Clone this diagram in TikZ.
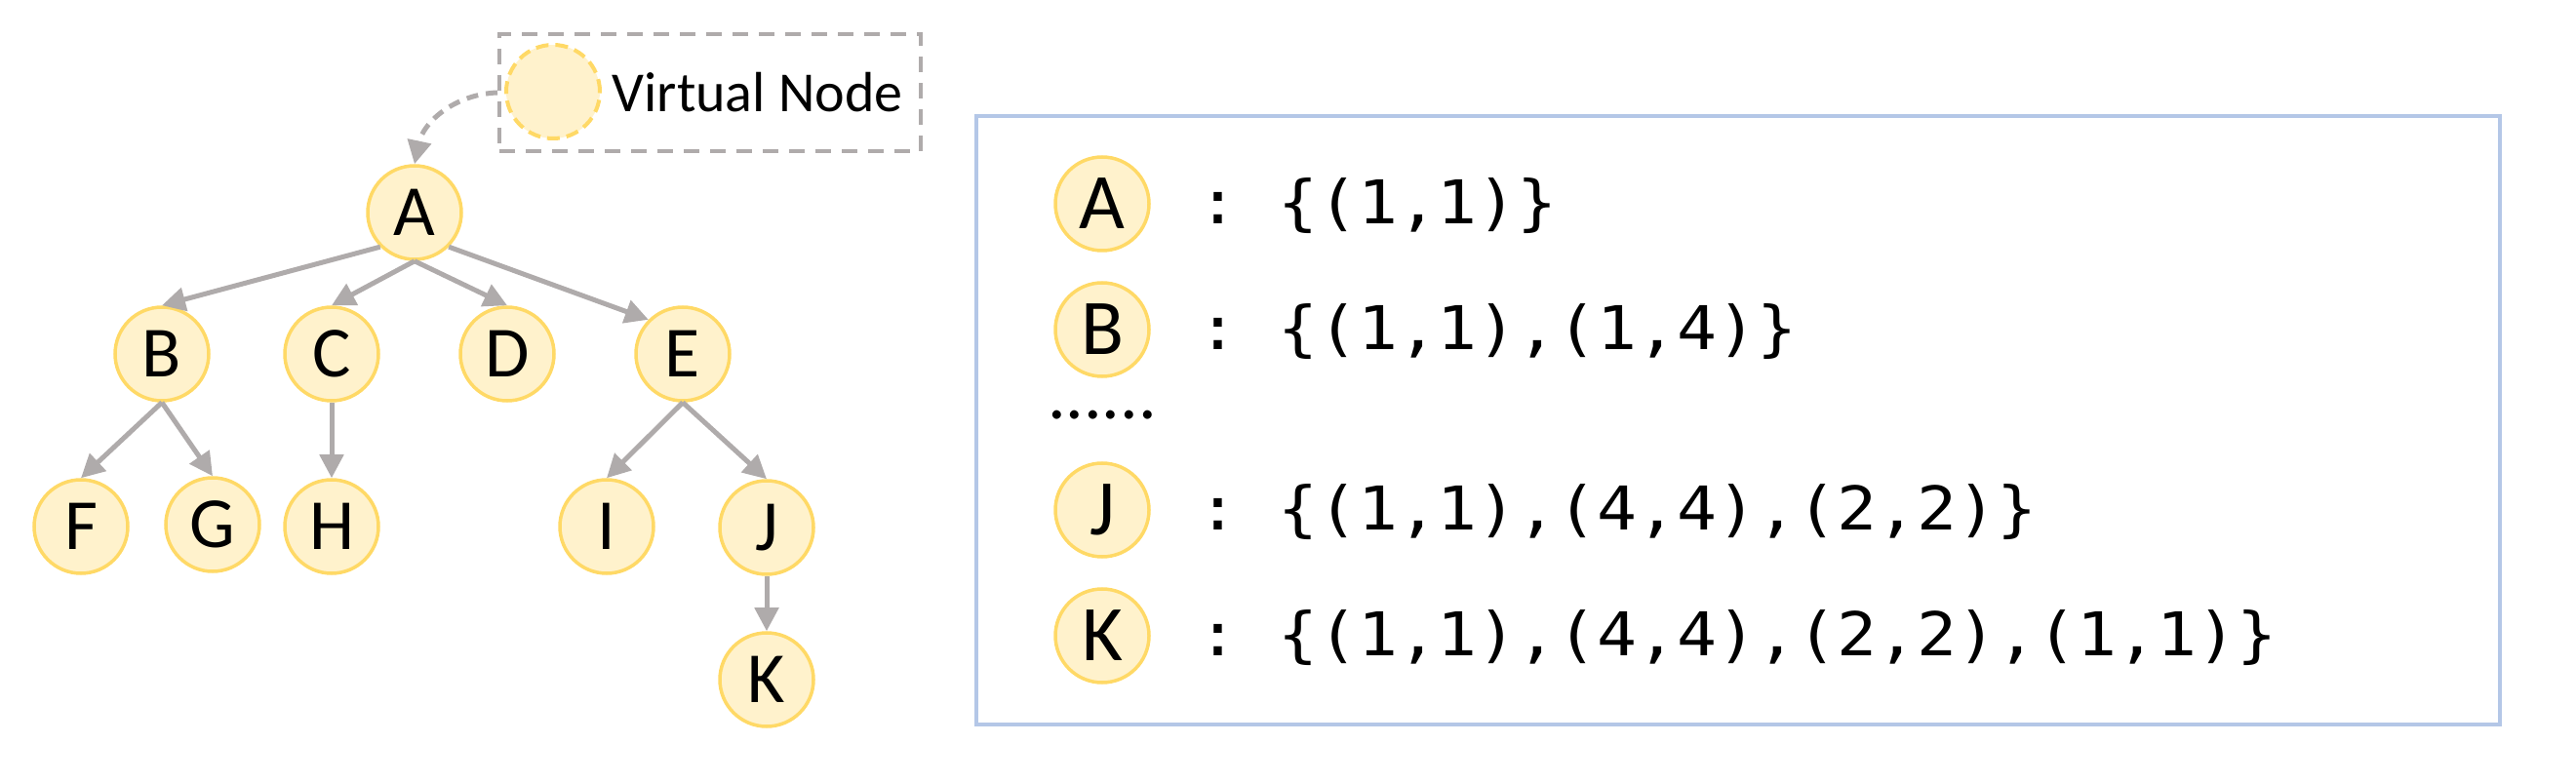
\documentclass[tikz,border=0pt]{standalone}
\usepackage{fontspec}
\setmainfont{Carlito}
\setmonofont[FakeStretch=1.1]{DejaVu Sans Mono}
\usetikzlibrary{arrows.meta}

\definecolor{nodefill}{HTML}{FFF2CC}
\definecolor{nodeline}{HTML}{FFD966}
\definecolor{edgegray}{HTML}{AFABAB}
\definecolor{frameblue}{HTML}{B4C7E7}

\begin{document}
\begin{tikzpicture}[
  tnode/.style={circle,draw=nodeline,fill=nodefill,line width=0.035cm,minimum size=0.96cm,inner sep=0pt,font=\fontsize{21}{25}\selectfont},
  lnode/.style={tnode,font=\fontsize{23}{27}\selectfont},
  vnode/.style={tnode,line width=0.04cm,dash pattern=on 0.13cm off 0.07cm},
  treearrow/.style={draw=edgegray,line width=0.05cm,-{Triangle[length=0.24cm,width=0.24cm]}},
  vbox/.style={draw=edgegray,line width=0.04cm,dash pattern=on 0.16cm off 0.11cm,inner sep=0pt},
  setline/.style={anchor=west,inner sep=0pt,font=\ttfamily\fontsize{17.6}{21}\selectfont}
]
\useasboundingbox (0,0) rectangle (26.41,-8.03);

% Virtual node legend
\node[vbox,minimum width=4.32cm,minimum height=1.20cm] (vb) at (7.28,-0.95) {};
\node[vnode] (vn) at (5.67,-0.94) {};
\node[anchor=west,inner sep=0pt,font=\fontsize{16.5}{20}\selectfont] (vlabel) at (6.27,-0.95) {Virtual Node};

% Tree
\node[tnode] (A) at (4.25,-2.18) {A};
\node[tnode] (B) at (1.66,-3.63) {B};
\node[tnode] (C) at (3.40,-3.63) {C};
\node[tnode] (D) at (5.20,-3.63) {D};
\node[tnode] (E) at (7.00,-3.63) {E};
\node[tnode] (F) at (0.83,-5.40) {F};
\node[tnode] (G) at (2.18,-5.38) {G};
\node[tnode] (H) at (3.40,-5.40) {H};
\node[tnode] (I) at (6.22,-5.40) {I};
\node[tnode] (J) at (7.86,-5.41) {J};
\node[tnode] (K) at (7.86,-6.97) {K};

\draw[treearrow,dashed,dash pattern=on 0.12cm off 0.08cm] (vb.west) to[out=182,in=78] (A.north);
\draw[treearrow] (A.south west) -- (B.north);
\draw[treearrow] (A.south) -- (C.north);
\draw[treearrow] (A.south) -- (D.north);
\draw[treearrow] (A.south east) -- (E.north west);
\draw[treearrow] (B.south) -- (F.north);
\draw[treearrow] (B.south) -- (G.north);
\draw[treearrow] (C.south) -- (H.north);
\draw[treearrow] (E.south) -- (I.north);
\draw[treearrow] (E.south) -- (J.north);
\draw[treearrow] (J.south) -- (K.north);

% Path sets
\node[draw=frameblue,line width=0.035cm,minimum width=15.62cm,minimum height=6.24cm,inner sep=0pt] (frame) at (17.82,-4.31) {};
\node[lnode] (rA) at (11.30,-2.09) {A};
\node[lnode] (rB) at (11.30,-3.38) {B};
\node[font=\fontsize{21}{25}\selectfont,inner sep=0pt] (dots) at (11.30,-4.26) {......};
\node[lnode] (rJ) at (11.30,-5.23) {J};
\node[lnode] (rK) at (11.30,-6.52) {K};
\node[setline] (tA) at (12.275,-2.11) {: \{(1,1)\}};
\node[setline] (tB) at (12.275,-3.40) {: \{(1,1),(1,4)\}};
\node[setline] (tJ) at (12.275,-5.25) {: \{(1,1),(4,4),(2,2)\}};
\node[setline] (tK) at (12.275,-6.54) {: \{(1,1),(4,4),(2,2),(1,1)\}};
\end{tikzpicture}
\end{document}
